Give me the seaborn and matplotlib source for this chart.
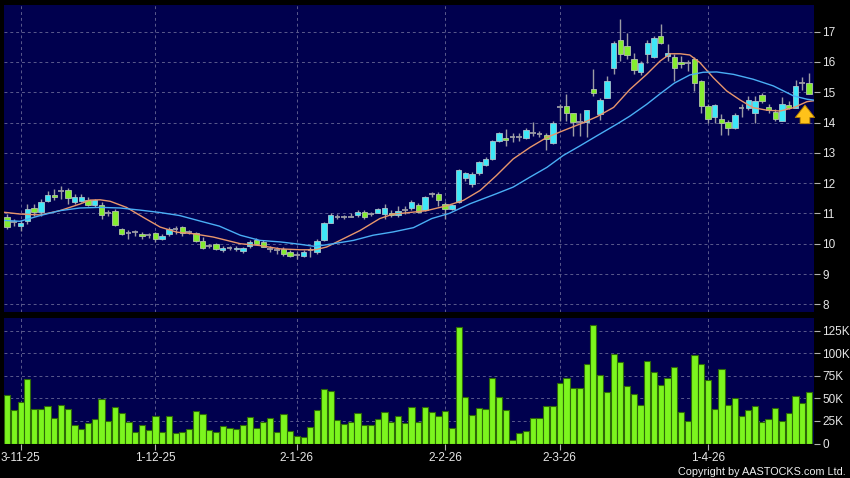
import numpy as np
import pandas as pd
import matplotlib
matplotlib.use('Agg')
import matplotlib.pyplot as plt
import seaborn as sns

# x-axis dates (bar index where each label sits)
date_labels = ['3-11-25', '1-12-25', '2-1-26', '2-2-26', '2-3-26', '1-4-26']
date_pos = [2, 22, 43, 65, 82, 104]

opens = [10.87, 10.71, 10.60, 10.74, 11.18, 11.04, 11.42, 11.61, 11.73, 11.77,
         11.37, 11.42, 11.45, 11.28, 11.28, 11.02, 11.09, 10.47, 10.35, 10.38,
         10.33, 10.28, 10.36, 10.16, 10.31, 10.47, 10.55, 10.38, 10.35, 10.09,
         9.91, 9.98, 9.80, 9.87, 9.82, 9.76, 9.91, 10.13, 10.06, 9.83,
         9.80, 9.83, 9.72, 9.63, 9.61, 9.78, 9.72, 10.11, 10.69, 10.89,
         10.87, 10.89, 10.94, 11.06, 10.98, 11.02, 10.98, 11.02, 10.94, 11.11,
         11.17, 11.28, 11.11, 11.64, 11.64, 11.31, 11.16, 11.38, 12.17, 11.98,
         12.33, 12.60, 12.80, 13.40, 13.48, 13.53, 13.53, 13.49, 13.65, 13.61,
         13.60, 13.31, 14.50, 14.56, 14.30, 14.02, 14.01, 15.10, 14.27, 14.82,
         15.79, 16.71, 16.53, 16.09, 15.68, 16.25, 16.16, 16.86, 16.20, 16.16,
         16.00, 15.95, 16.09, 15.37, 14.55, 14.19, 14.11, 14.02, 13.81, 14.47,
         14.47, 14.33, 14.91, 14.52, 14.35, 14.06, 14.58, 14.49, 15.30, 15.30]
highs = [10.98, 10.82, 10.79, 11.31, 11.31, 11.48, 11.75, 11.80, 11.91, 11.84,
         11.64, 11.64, 11.53, 11.48, 11.37, 11.10, 11.15, 10.53, 10.44, 10.44,
         10.38, 10.34, 10.40, 10.33, 10.55, 10.60, 10.60, 10.44, 10.40, 10.22,
         9.98, 10.02, 9.94, 9.94, 9.92, 9.90, 10.13, 10.20, 10.13, 9.94,
         9.89, 9.89, 9.78, 9.72, 9.78, 9.89, 10.17, 10.72, 11.00, 10.98,
         10.95, 11.00, 11.11, 11.11, 11.05, 11.17, 11.31, 11.11, 11.24, 11.24,
         11.44, 11.33, 11.58, 11.72, 11.72, 11.38, 11.30, 12.47, 12.36, 12.36,
         12.74, 12.86, 13.42, 13.70, 13.80, 13.67, 13.65, 13.81, 14.03, 13.73,
         13.67, 14.05, 14.60, 14.93, 14.33, 14.30, 14.43, 15.76, 14.80, 15.53,
         16.68, 17.41, 16.97, 16.28, 16.04, 16.71, 16.86, 17.24, 16.58, 16.25,
         16.20, 16.05, 16.15, 15.42, 14.60, 14.60, 14.27, 14.07, 14.33, 14.60,
         14.88, 14.88, 14.99, 14.60, 14.44, 14.85, 14.71, 15.40, 15.49, 15.65]
lows = [10.49, 10.60, 10.42, 10.66, 10.93, 10.93, 11.37, 11.44, 11.48, 11.31,
        11.31, 11.37, 11.26, 11.20, 10.82, 10.90, 10.60, 10.28, 10.16, 10.26,
        10.16, 10.20, 10.05, 10.11, 10.27, 10.33, 10.27, 10.33, 10.05, 9.84,
        9.85, 9.78, 9.72, 9.78, 9.76, 9.70, 9.87, 9.98, 9.89, 9.72,
        9.67, 9.61, 9.56, 9.50, 9.56, 9.56, 9.67, 10.09, 10.67, 10.83,
        10.80, 10.87, 10.89, 10.80, 10.90, 11.00, 10.80, 10.89, 10.89, 10.98,
        11.11, 11.00, 11.09, 11.53, 11.24, 10.83, 11.11, 11.33, 12.08, 11.87,
        12.28, 12.58, 12.77, 13.35, 13.22, 13.35, 13.40, 13.45, 13.56, 13.51,
        13.11, 13.29, 14.04, 14.04, 13.55, 13.55, 13.51, 14.88, 14.10, 14.80,
        15.59, 16.03, 16.10, 15.59, 15.57, 15.95, 16.14, 16.60, 16.04, 15.37,
        15.80, 15.70, 15.04, 14.33, 14.00, 14.00, 13.60, 13.60, 13.78, 14.18,
        14.42, 14.00, 14.66, 14.30, 14.05, 14.05, 14.44, 14.49, 15.09, 14.93]
closes = [10.55, 10.71, 10.68, 11.15, 11.04, 11.37, 11.62, 11.55, 11.73, 11.51,
          11.55, 11.55, 11.28, 11.45, 10.95, 11.02, 10.63, 10.33, 10.35, 10.38,
          10.24, 10.28, 10.16, 10.27, 10.47, 10.47, 10.36, 10.38, 10.09, 9.87,
          9.91, 9.84, 9.87, 9.87, 9.87, 9.87, 10.06, 10.00, 9.89, 9.83,
          9.80, 9.67, 9.61, 9.63, 9.74, 9.78, 10.09, 10.69, 10.94, 10.89,
          10.87, 10.89, 11.06, 10.87, 10.98, 11.13, 11.17, 10.94, 11.09, 11.11,
          11.39, 11.06, 11.53, 11.64, 11.44, 11.15, 11.27, 12.44, 12.33, 12.31,
          12.69, 12.80, 13.40, 13.67, 13.42, 13.53, 13.53, 13.76, 13.65, 13.61,
          13.45, 14.00, 14.50, 14.30, 14.01, 14.02, 14.40, 14.97, 14.74, 15.37,
          16.64, 16.27, 16.23, 15.73, 15.98, 16.64, 16.80, 16.62, 16.30, 15.81,
          15.93, 15.95, 15.32, 14.55, 14.11, 14.57, 13.98, 13.81, 14.25, 14.47,
          14.74, 14.71, 14.71, 14.41, 14.11, 14.60, 14.47, 15.22, 15.30, 14.95]
# volume in thousands of shares
volume_k = [53.6, 37, 46, 71, 38, 38, 41, 28, 43, 38,
            20, 16, 22.6, 27, 49, 25, 40, 34, 24, 13,
            20, 15, 30, 13, 30, 11.5, 12.6, 16, 35.5, 32.5,
            15, 13, 19, 17, 16, 20, 29, 17, 24, 28.5,
            12.6, 33, 13.7, 8.5, 7.4, 18.5, 37.4, 60.7, 58, 25.5,
            21.4, 24, 34, 20.7, 20.7, 26.6, 35, 23.3, 31, 23,
            40.3, 23.3, 40, 34.8, 30.3, 35.5, 17, 129, 51, 32,
            39.6, 38.5, 72, 51.8, 37, 3.7, 11.8, 14, 27.7, 27.7,
            41, 41, 67, 73, 62, 61.4, 88, 131, 76, 57,
            98.7, 90.5, 63.6, 54.4, 42.6, 91, 79, 64.7, 73, 85,
            34.8, 25, 98, 88, 70, 37.8, 83, 43, 50, 31,
            36.7, 42, 24, 27, 39, 25, 33.7, 52.5, 45, 57]

# moving averages (bar position, price)
ma_short_x = [-0.5, 1.9, 4.9, 7.8, 10.8, 12.3, 13.8, 15.3, 17.7, 20.2, 22.7, 25.2,
              27.6, 30.6, 34.6, 37.5, 40.5, 43.5, 45.7, 47.4, 49.4, 52.4, 55.3,
              57.3, 59.3, 62.2, 65.2, 67.7, 70.2, 72.6, 75.1, 77.6, 80.1, 82.5,
              85, 87.5, 90, 92.4, 94.9, 96.9, 98.4, 99.9, 101.3, 102.8, 104.8,
              106.8, 108.8, 110.7, 112.7, 114.7, 116.7, 118.7, 119.7]
ma_short = [11.04, 10.98, 10.95, 11.09, 11.31, 11.44, 11.45, 11.40, 11.20, 10.87,
            10.55, 10.38, 10.33, 10.22, 10.00, 9.94, 9.83, 9.80, 9.80, 9.89,
            10.11, 10.44, 10.83, 10.98, 11.02, 11.09, 11.25, 11.43, 11.76, 12.25,
            12.80, 13.18, 13.51, 13.73, 13.95, 14.19, 14.50, 15.09, 15.59, 16.03,
            16.27, 16.27, 16.23, 15.98, 15.48, 15.04, 14.74, 14.49, 14.41, 14.38,
            14.49, 14.69, 14.72]
ma_long_x = [-0.5, 1.9, 4.9, 7.8, 10.8, 13.8, 16.7, 19.7, 22.7, 25.6, 28.6, 31.5,
             34.6, 37.5, 40.5, 43.5, 45.7, 48.4, 51.4, 54.3, 57.3, 60.3, 63.0,
             65.6, 68.7, 72.6, 75.1, 77.6, 80.1, 82.5, 85, 87.5, 90.5, 92.4,
             94.9, 96.9, 99.0, 101.3, 103.3, 105.3, 107.8, 110.7, 113.7, 116.7,
             118.7, 119.7]
ma_long = [10.77, 10.74, 10.93, 11.09, 11.18, 11.20, 11.18, 11.11, 11.03, 10.93,
           10.75, 10.58, 10.28, 10.11, 10.06, 9.98, 9.91, 10.00, 10.11, 10.28,
           10.39, 10.53, 10.83, 11.00, 11.32, 11.65, 11.87, 12.20, 12.52, 12.91,
           13.23, 13.56, 13.95, 14.21, 14.60, 14.95, 15.30, 15.57, 15.66, 15.67,
           15.59, 15.43, 15.21, 14.88, 14.77, 14.74]

price_ticks = list(range(8, 18))
vol_ticks_k = [0, 25, 50, 75, 100, 125]

sns.set_theme(style='dark', rc={
    'figure.facecolor': 'black',
    'axes.facecolor': '#00004e',
    'axes.edgecolor': '#00004e',
    'savefig.facecolor': 'black',
})
plt.rcParams['font.family'] = ['Liberation Sans', 'DejaVu Sans']

df = pd.DataFrame({'o': opens, 'h': highs, 'l': lows, 'c': closes, 'v': volume_k})
df['i'] = np.arange(len(df))

cyan = '#3ee8f8'
lime = '#84ec30'
wick = '#9c9ca4'
grid_kw = dict(color='#5a5a8c', linestyle=(0, (3, 3)), linewidth=0.7)
txt = '#e6e6e6'

fig = plt.figure(figsize=(8.5, 4.78), dpi=100)
ax = fig.add_axes([4 / 850, 166 / 478, 810 / 850, 307 / 478])
axv = fig.add_axes([4 / 850, 34.5 / 478, 810 / 850, 125.5 / 478])

# candles
up = df[df.c > df.o]
dn = df[df.c < df.o]
fl = df[df.c == df.o]
ax.vlines(df.i, df.l, df.h, color=wick, linewidth=1, zorder=2)
ax.bar(up.i, up.c - up.o, bottom=up.o, width=0.8, color=cyan,
       edgecolor='#a8c4cc', linewidth=0.6, zorder=3)
ax.bar(dn.i, dn.o - dn.c, bottom=dn.c, width=0.8, color=lime,
       edgecolor='#b4c4a8', linewidth=0.6, zorder=3)
ax.hlines(fl.c, fl.i - 0.42, fl.i + 0.42, color=wick, linewidth=1.3, zorder=3)

sns.lineplot(x=ma_short_x, y=ma_short, ax=ax, color='#e8966c', linewidth=1, zorder=4)
sns.lineplot(x=ma_long_x, y=ma_long, ax=ax, color='#4aaef5', linewidth=1, zorder=4)

# signal arrow under the last bars
ax.annotate('', xy=(len(df) - 1.6, ma_short[-1] - 0.05),
            xytext=(len(df) - 1.6, ma_short[-1] - 0.85),
            arrowprops=dict(arrowstyle='simple,head_width=1.4,head_length=0.9,tail_width=0.7',
                            fc='#ffc21a', ec='#b07a00', lw=0.6, mutation_scale=10),
            zorder=6)

ax.set_xlim(-0.47, 119.74)
ax.set_ylim(7.746, 17.88)
ax.set_xticks(date_pos)
ax.set_yticks(price_ticks)
ax.set_yticklabels([str(t) for t in price_ticks])
ax.yaxis.tick_right()
ax.tick_params(axis='x', length=0, labelbottom=False)
ax.tick_params(axis='y', right=True, length=4, width=0.8, color='#b0b0b0',
               labelcolor=txt, labelsize=8.5, pad=2)
ax.grid(True, **grid_kw)
ax.set_xlabel('')
ax.set_ylabel('')
for s in ax.spines.values():
    s.set_visible(False)

# volume
sns.barplot(x=df.i, y=df.v * 1000, ax=axv, native_scale=True, color='#7cf51e',
            saturation=1, edgecolor='#2e6a08', linewidth=0.8, width=0.92, zorder=3)
axv.set_xlim(-0.47, 119.74)
axv.set_ylim(0, 139000)
axv.set_xticks(date_pos)
axv.set_xticklabels(date_labels)
axv.set_yticks([k * 1000 for k in vol_ticks_k])
axv.set_yticklabels(['0' if k == 0 else f'{k}K' for k in vol_ticks_k])
axv.yaxis.tick_right()
axv.tick_params(axis='x', bottom=True, length=4, width=0.8, color='#b0b0b0',
                labelcolor=txt, labelsize=8.5, pad=2)
axv.tick_params(axis='y', right=True, left=False, length=4, width=0.8, color='#b0b0b0',
                labelcolor=txt, labelsize=8.5, pad=2)
axv.grid(True, **grid_kw)
axv.set_axisbelow(True)
axv.set_xlabel('')
axv.set_ylabel('')
for s in axv.spines.values():
    s.set_visible(False)

fig.text(846 / 850, 6 / 478, 'Copyright by AASTOCKS.com Ltd.', ha='right', va='center',
         color='#f0f0f0', fontsize=7.8)

fig.savefig('out.png', dpi=100)
